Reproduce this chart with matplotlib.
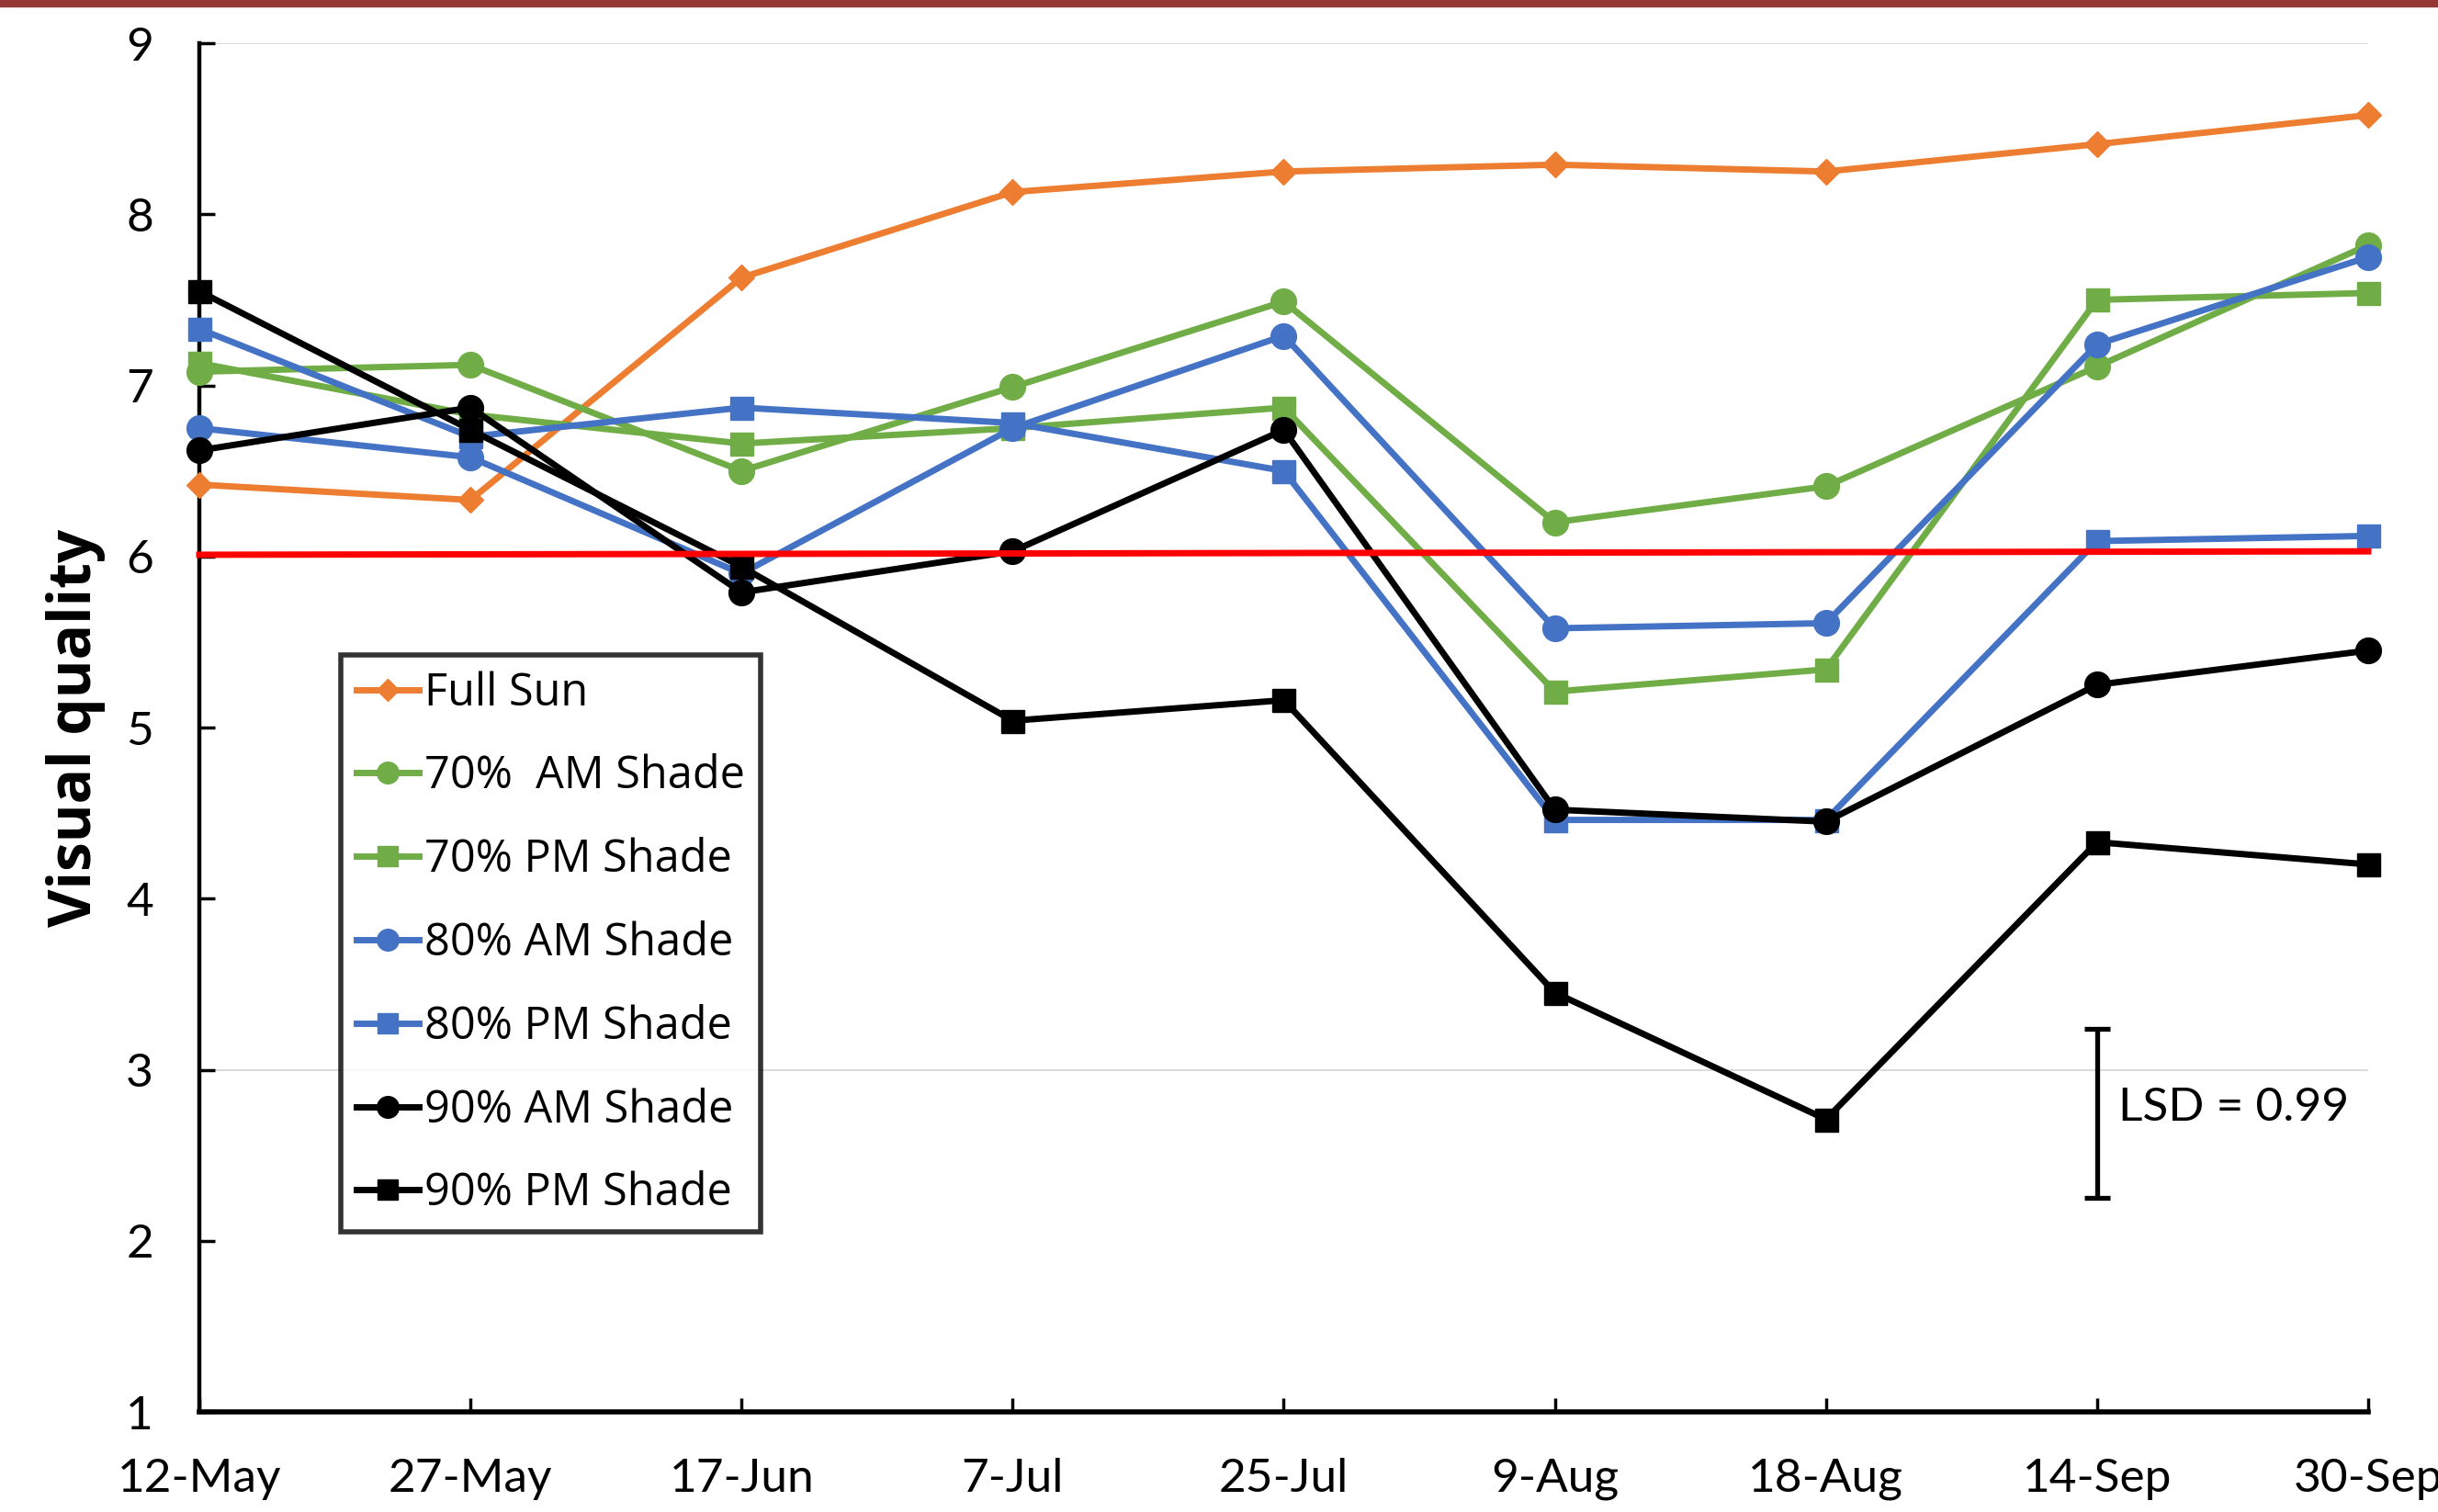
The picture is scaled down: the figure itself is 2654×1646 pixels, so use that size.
import matplotlib
matplotlib.use("Agg")
import matplotlib.pyplot as plt
from matplotlib.patches import Rectangle

dates = ['12-May', '27-May', '17-Jun', '7-Jul', '25-Jul', '9-Aug', '18-Aug', '14-Sep', '30-Sep']

full_sun = [6.42, 6.33, 7.63, 8.13, 8.25, 8.29, 8.25, 8.41, 8.58]
am70 = [7.08, 7.12, 6.50, 6.99, 7.49, 6.20, 6.41, 7.11, 7.82]
pm70 = [7.13, 6.83, 6.66, 6.75, 6.87, 5.21, 5.34, 7.50, 7.54]
am80 = [6.75, 6.58, 5.90, 6.75, 7.29, 5.58, 5.61, 7.24, 7.75]
pm80 = [7.33, 6.70, 6.87, 6.78, 6.50, 4.46, 4.46, 6.09, 6.12]
am90 = [6.62, 6.87, 5.79, 6.03, 6.74, 4.52, 4.45, 5.25, 5.45]
pm90 = [7.55, 6.74, 5.94, 5.04, 5.16, 3.45, 2.71, 4.33, 4.20]

# threshold line (start, end) and LSD bar
threshold = [6.01, 6.03]
lsd = 0.99
lsd_center = 2.745

plt.rcParams['font.family'] = ['Lato', 'DejaVu Sans']

fig = plt.figure(figsize=(26.54, 16.46), dpi=100)
ax = fig.add_axes([0.08176, 0.06622, 0.8896, 0.9052])

# dark red strip at the very top
fig.patches.append(Rectangle((0, 0.9955), 1, 0.0045, transform=fig.transFigure,
                             color='#953735', zorder=0))

x = list(range(len(dates)))

# only two light gridlines are visible in the original
for g in [9, 3]:
    ax.axhline(g, color='#d9d9d9', lw=1.4, zorder=0)

series = [
    (full_sun, '#ED7D31', 'D', 14, 'Full Sun'),
    (am70, '#70AD47', 'o', 20, '70%  AM Shade'),
    (pm70, '#70AD47', 's', 18, '70% PM Shade'),
    (am80, '#4472C4', 'o', 20, '80% AM Shade'),
    (pm80, '#4472C4', 's', 18, '80% PM Shade'),
    (am90, 'black', 'o', 20, '90% AM Shade'),
    (pm90, 'black', 's', 18, '90% PM Shade'),
]
handles = []
for i, (vals, col, mk, ms, lab) in enumerate(series):
    h, = ax.plot(x, vals, color=col, lw=5, marker=mk, ms=ms, label=lab,
                 clip_on=False, zorder=3 + i)
    handles.append(h)

# red reference line on top
ax.plot([x[0], x[-1]], threshold, color='#ff0000', lw=5, zorder=20, clip_on=False)

# LSD bar at 14-Sep
ax.errorbar([7], [lsd_center], yerr=[lsd / 2], fmt='none', ecolor='black',
            elinewidth=3.8, capsize=10, capthick=3.8, zorder=20)
ax.text(7.08, lsd_center + 0.03, 'LSD = 0.99', fontsize=37, va='center', ha='left')

ax.set_xlim(0, 8)
ax.set_ylim(1, 9)
ax.set_xticks(x)
ax.set_xticklabels(dates)
ax.set_yticks(range(1, 10))

ax.spines['top'].set_visible(False)
ax.spines['right'].set_visible(False)
ax.spines['left'].set_linewidth(3.2)
ax.spines['bottom'].set_linewidth(4)
ax.tick_params(axis='both', direction='in', labelsize=37, width=2.5, color='black')
ax.tick_params(axis='y', length=12, pad=36)
ax.tick_params(axis='x', length=11, pad=36)

ax.set_ylabel('Visual quality', fontsize=46, fontweight='bold',
              family=['Open Sans', 'DejaVu Sans'])
ax.yaxis.set_label_coords(-0.043, 0.5)

leg = fig.legend(handles=handles, loc='upper left', bbox_to_anchor=(0.1398, 0.5668),
                 borderaxespad=0, frameon=True, fancybox=False, edgecolor='black',
                 prop={'family': ['Open Sans', 'DejaVu Sans'], 'size': 35},
                 handlelength=1.4, handletextpad=0.12, labelspacing=0.85,
                 borderpad=0.35, markerscale=0.85)
leg.get_frame().set_linewidth(4)
leg.set_zorder(30)

fig.savefig('out.png', dpi=100, facecolor='white')
